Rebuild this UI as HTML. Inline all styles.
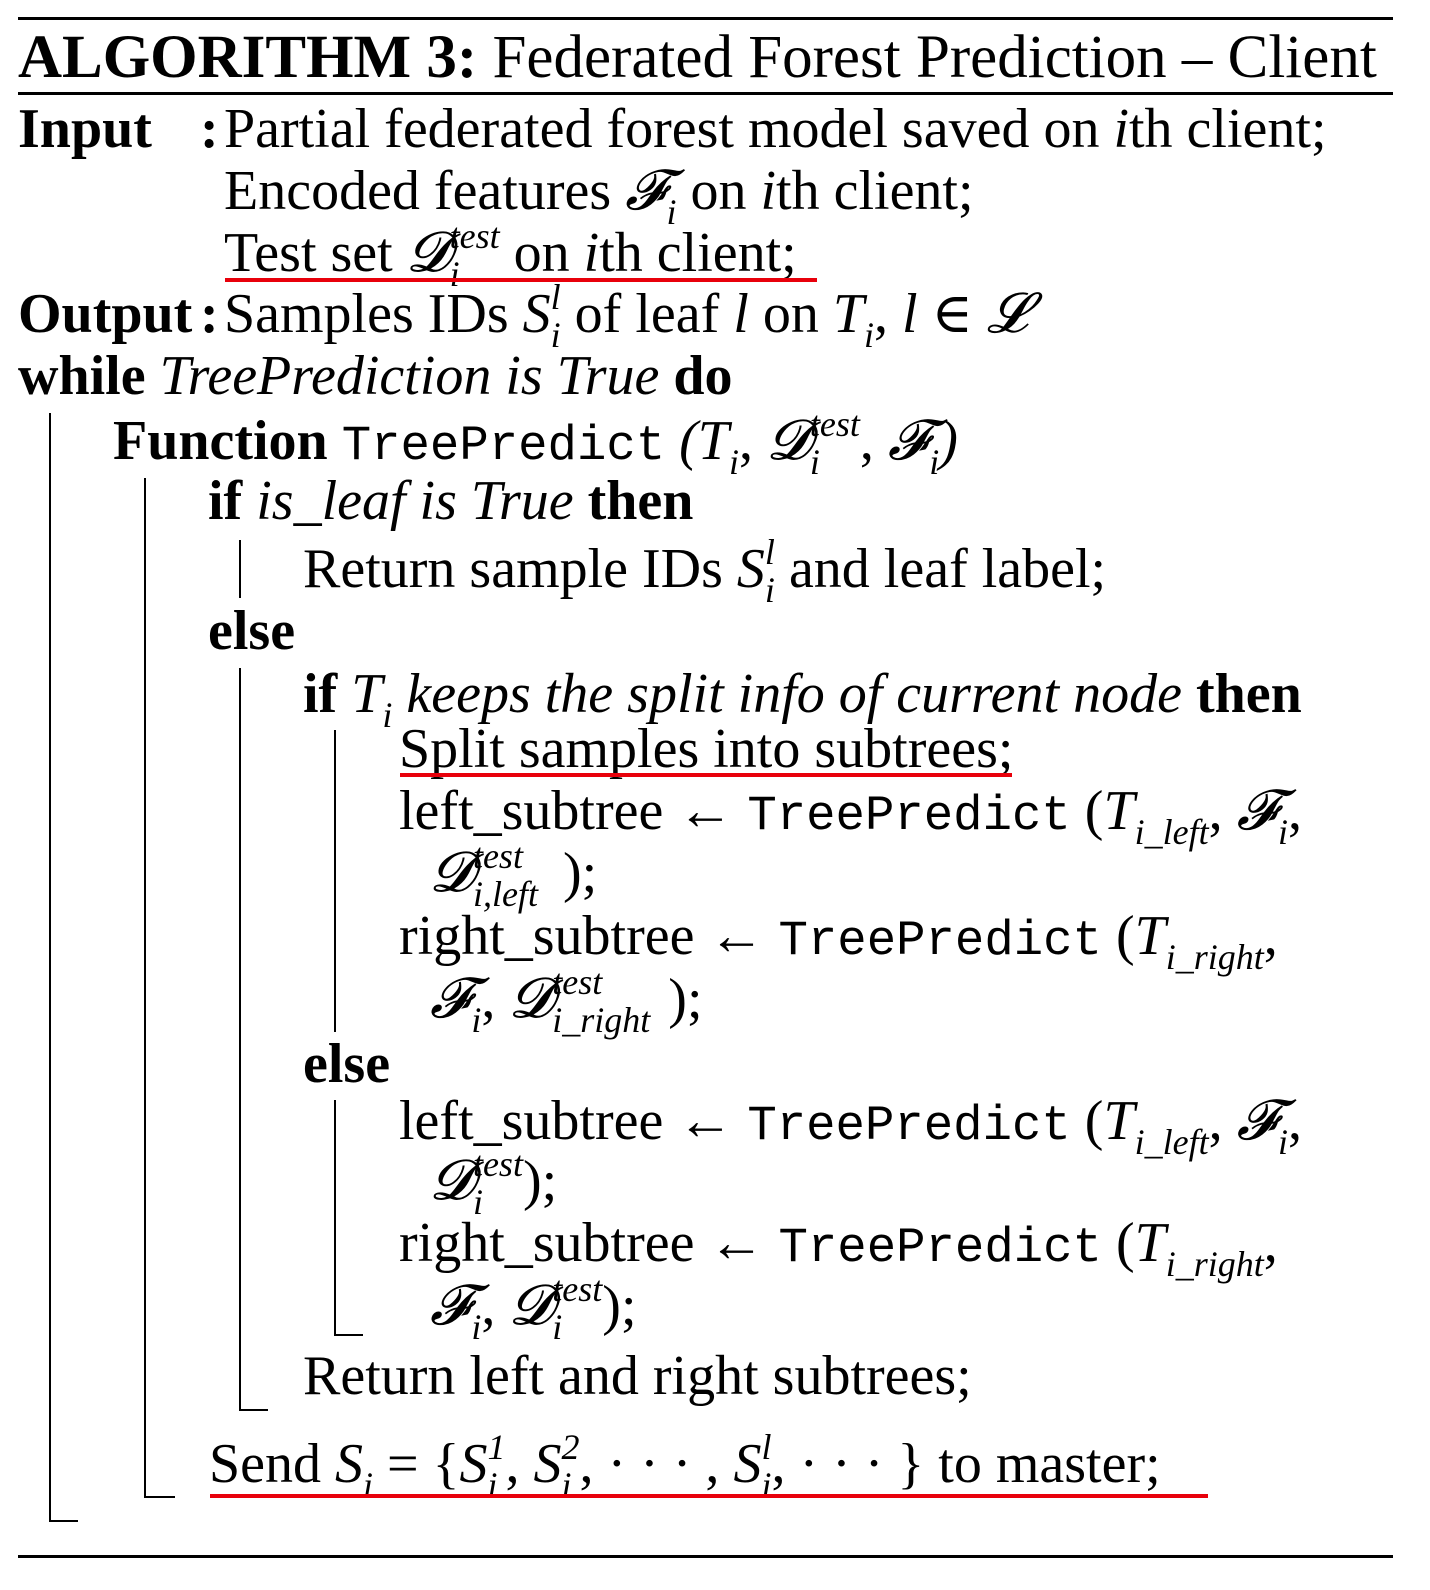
<!DOCTYPE html>
<html><head><meta charset="utf-8"><style>
html,body{margin:0;padding:0;background:#fff;}
body{width:1430px;height:1590px;position:relative;overflow:hidden;font-family:"Liberation Serif","DejaVu Serif",serif;color:#000;}
.l{position:absolute;font-size:56px;line-height:1;white-space:nowrap;}
.b{font-weight:bold;}
.i{font-style:italic;}
.m{font-family:"Liberation Mono",monospace;font-size:49px;}
.sub{font-size:36px;position:relative;top:15px;font-style:italic;}
.sup{font-size:36px;position:relative;top:-23px;font-style:italic;}
.ss{display:inline-block;position:relative;vertical-align:baseline;width:0;}
.ss .sub{display:inline-block;}
.r{position:absolute;background:#000;}
.red{position:absolute;background:#e8000b;height:4px;}
</style></head><body>
<div class="r" style="left:18px;top:17px;width:1375px;height:3px"></div>
<div class="l" style="left:18px;top:27px;font-size:61px"><span class="b">ALGORITHM 3:</span> Federated Forest Prediction – Client</div>
<div class="r" style="left:18px;top:92px;width:1375px;height:3px"></div>

<div class="l b" style="left:18px;top:101px">Input</div>
<div class="l b" style="left:200px;top:101px">:</div>
<div class="l" style="left:224px;top:101px">Partial federated forest model saved on <span class="i">i</span>th client;</div>
<div class="l" style="left:224px;top:163px">Encoded features <span class="i">𝓕</span><span class="sub">i</span> on <span class="i">i</span>th client;</div>
<div class="l" style="left:224px;top:225px">Test set <span class="i">𝓓</span><span class="ss"><span class="sub">i</span></span><span class="sup">test</span> on <span class="i">i</span>th client;</div>
<div class="red" style="left:225px;top:278px;width:592px"></div>
<div class="l b" style="left:18px;top:286px">Output</div>
<div class="l b" style="left:200px;top:286px">:</div>
<div class="l" style="left:224px;top:286px">Samples IDs <span class="i">S</span><span class="ss"><span class="sub">i</span></span><span class="sup">l</span> of leaf <span class="i">l</span> on <span class="i">T</span><span class="sub">i</span>, <span class="i">l</span> ∈ <span class="i">𝓛</span></div>
<div class="l" style="left:18px;top:348px"><span class="b">while</span> <span class="i">TreePrediction is True</span> <span class="b">do</span></div>

<div class="l" style="left:113px;top:413px"><span class="b">Function</span> <span class="m">TreePredict</span> <span class="i">(T</span><span class="sub">i</span>, <span class="i">𝓓</span><span class="ss"><span class="sub">i</span></span><span class="sup">test</span>, <span class="i">𝓕</span><span class="sub">i</span><span class="i">)</span></div>
<div class="l" style="left:208px;top:473px"><span class="b">if</span> <span class="i">is_leaf is True</span> <span class="b">then</span></div>
<div class="l" style="left:303px;top:541px">Return sample IDs <span class="i">S</span><span class="ss"><span class="sub">i</span></span><span class="sup">l</span> and leaf label;</div>
<div class="l b" style="left:208px;top:603px">else</div>
<div class="l" style="left:303px;top:666px"><span class="b">if</span> <span class="i">T</span><span class="sub">i</span> <span class="i">keeps the split info of current node</span> <span class="b">then</span></div>
<div class="l" style="left:399px;top:721px">Split samples into subtrees;</div>
<div class="red" style="left:400px;top:773px;width:612px"></div>
<div class="l" style="left:399px;top:783px">left_subtree ← <span class="m">TreePredict</span> (<span class="i">T</span><span class="sub">i_left</span>, <span class="i">𝓕</span><span class="sub">i</span>,</div>
<div class="l" style="left:430px;top:845px"><span class="i">𝓓</span><span class="ss"><span class="sub">i,left</span></span><span class="sup">test</span><span style="display:inline-block;width:40px"></span>);</div>
<div class="l" style="left:399px;top:908px">right_subtree ← <span class="m">TreePredict</span> (<span class="i">T</span><span class="sub">i_right</span>,</div>
<div class="l" style="left:430px;top:971px"><span class="i">𝓕</span><span class="sub">i</span>, <span class="i">𝓓</span><span class="ss"><span class="sub">i_right</span></span><span class="sup">test</span><span style="display:inline-block;width:66px"></span>);</div>
<div class="l b" style="left:303px;top:1036px">else</div>
<div class="l" style="left:399px;top:1093px">left_subtree ← <span class="m">TreePredict</span> (<span class="i">T</span><span class="sub">i_left</span>, <span class="i">𝓕</span><span class="sub">i</span>,</div>
<div class="l" style="left:430px;top:1153px"><span class="i">𝓓</span><span class="ss"><span class="sub">i</span></span><span class="sup">test</span>);</div>
<div class="l" style="left:399px;top:1215px">right_subtree ← <span class="m">TreePredict</span> (<span class="i">T</span><span class="sub">i_right</span>,</div>
<div class="l" style="left:430px;top:1278px"><span class="i">𝓕</span><span class="sub">i</span>, <span class="i">𝓓</span><span class="ss"><span class="sub">i</span></span><span class="sup">test</span>);</div>
<div class="l" style="left:303px;top:1348px">Return left and right subtrees;</div>
<div class="l" style="left:209px;top:1436px">Send <span class="i">S</span><span class="sub">i</span> = {<span class="i">S</span><span class="ss"><span class="sub">i</span></span><span class="sup">1</span>, <span class="i">S</span><span class="ss"><span class="sub">i</span></span><span class="sup">2</span>, · · · , <span class="i">S</span><span class="ss"><span class="sub">i</span></span><span class="sup">l</span>, · · · } to master;</div>
<div class="red" style="left:210px;top:1494px;width:998px"></div>

<div class="r" style="left:49px;top:413px;width:2px;height:1109px"></div>
<div class="r" style="left:49px;top:1520px;width:29px;height:2px"></div>
<div class="r" style="left:144px;top:478px;width:2px;height:1020px"></div>
<div class="r" style="left:144px;top:1496px;width:31px;height:2px"></div>
<div class="r" style="left:239px;top:540px;width:2px;height:58px"></div>
<div class="r" style="left:239px;top:668px;width:2px;height:743px"></div>
<div class="r" style="left:239px;top:1409px;width:29px;height:2px"></div>
<div class="r" style="left:334px;top:730px;width:2px;height:302px"></div>
<div class="r" style="left:334px;top:1100px;width:2px;height:236px"></div>
<div class="r" style="left:334px;top:1334px;width:29px;height:2px"></div>

<div class="r" style="left:18px;top:1555px;width:1375px;height:3px"></div>
</body></html>
